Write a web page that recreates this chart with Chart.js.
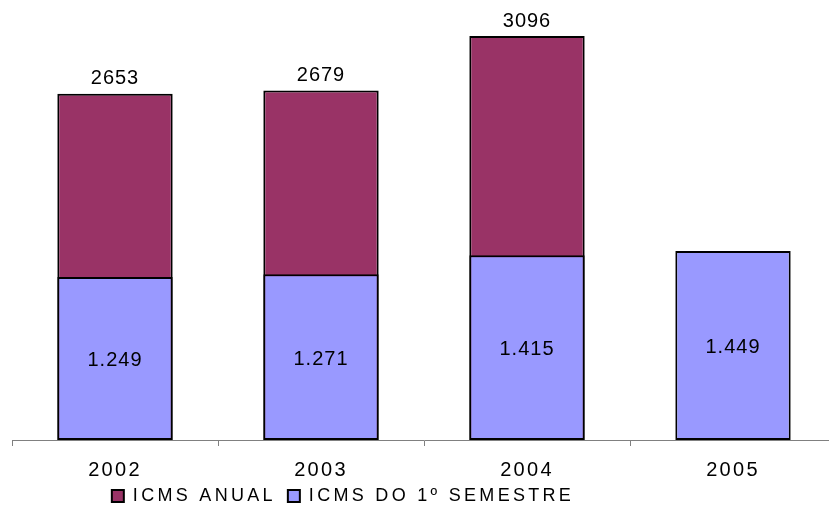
<!DOCTYPE html>
<html>
<head>
<meta charset="utf-8">
<script src="https://cdn.jsdelivr.net/npm/chart.js@4/dist/chart.umd.min.js"></script>
<style>
  html, body { margin: 0; padding: 0; background: #fff; overflow: hidden; }
  #wrap { width: 836px; height: 507px; }
</style>
</head>
<body>
<div id="wrap"><canvas id="icmsChart" width="836" height="507"></canvas></div>
<script>
const years = ['2002', '2003', '2004', '2005'];
const icmsAnual = [2653, 2679, 3096, null];
const icmsSemestre = [1249, 1271, 1415, 1449];

const FONT = "'Liberation Sans', Arial, sans-serif";

function milhar(v) {
    return String(v).replace(/\B(?=(\d{3})+(?!\d))/g, '.');
}

// run a box method with a given letter spacing on the canvas
function spaced(box, method, sp) {
    const orig = box[method].bind(box);
    box[method] = function (...args) {
        const c = box.ctx;
        const prev = c.letterSpacing;
        c.letterSpacing = sp;
        const r = orig(...args);
        c.letterSpacing = prev;
        return r;
    };
}

// nudge the legend: a bit left of centre, tucked under the axis labels
const legendPlace = {
    id: 'legendPlace',
    afterLayout(chart) {
        const lg = chart.legend;
        lg.left -= 81;
        lg.right -= 81;
        lg.top -= 19;
        lg.bottom -= 19;
    }
};

// totals above the annual bars, semester values inside the lower bars
const valueLabels = {
    id: 'valueLabels',
    afterDatasetsDraw(chart) {
        const ctx = chart.ctx;
        ctx.save();
        ctx.font = '20px ' + FONT;
        ctx.letterSpacing = '1px';
        ctx.fillStyle = '#000';
        ctx.textAlign = 'center';

        chart.getDatasetMeta(0).data.forEach((bar, i) => {
            const v = icmsAnual[i];
            if (v == null) return;
            ctx.textBaseline = 'bottom';
            ctx.fillText(String(v), bar.x, bar.y - 5);
        });
        chart.getDatasetMeta(1).data.forEach((bar, i) => {
            ctx.textBaseline = 'middle';
            ctx.fillText(milhar(icmsSemestre[i]), bar.x, (bar.y + bar.base) / 2 + 2);
        });
        ctx.restore();
    }
};

const chart = new Chart(document.getElementById('icmsChart'), {
    type: 'bar',
    data: {
        labels: years,
        datasets: [
            {
                label: 'ICMS ANUAL',
                data: icmsAnual,
                backgroundColor: '#993366',
                borderColor: '#000000',
                borderWidth: 2,
                borderSkipped: false,
                grouped: false,
                order: 2
            },
            {
                label: 'ICMS DO 1º SEMESTRE',
                data: icmsSemestre,
                backgroundColor: '#9999FF',
                borderColor: '#000000',
                borderWidth: 2,
                borderSkipped: false,
                grouped: false,
                order: 1
            }
        ]
    },
    options: {
        responsive: false,
        animation: false,
        layout: { padding: { left: 12, right: 0, top: 0, bottom: -27 } },
        datasets: { bar: { barPercentage: 0.56, categoryPercentage: 1 } },
        scales: {
            x: {
                offset: true,
                grid: {
                    offset: true,
                    drawOnChartArea: false,
                    drawTicks: true,
                    tickLength: 6,
                    color: '#808080'
                },
                border: { color: '#808080', width: 1 },
                ticks: {
                    color: '#000',
                    font: { family: FONT, size: 20 },
                    padding: 12
                }
            },
            y: {
                display: false,
                min: 0,
                max: 3372
            }
        },
        plugins: {
            legend: {
                position: 'bottom',
                labels: {
                    sort: (a, b) => a.datasetIndex - b.datasetIndex,
                    boxWidth: 12,
                    boxHeight: 12,
                    padding: 12,
                    color: '#000',
                    font: { family: FONT, size: 18 }
                }
            },
            tooltip: { enabled: false }
        }
    },
    plugins: [legendPlace, valueLabels]
});

spaced(chart.legend, 'fit', '3.3px');
spaced(chart.legend, 'draw', '3.3px');
spaced(chart.scales.x, 'fit', '2.3px');
spaced(chart.scales.x, 'draw', '2.3px');
chart.update();
</script>
</body>
</html>
